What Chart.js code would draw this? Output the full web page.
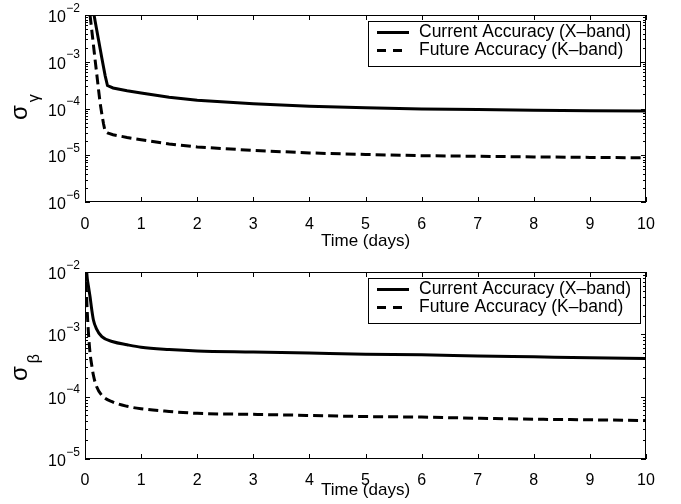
<!DOCTYPE html>
<html>
<head>
<meta charset="utf-8">
<script src="https://cdn.jsdelivr.net/npm/chart.js@4.4.1/dist/chart.umd.min.js"></script>
<style>
  body { margin: 0; background: #fff; }
  #wrap { position: relative; width: 681px; height: 504px; }
  canvas { position: absolute; left: 0; }
  #gammaChart { top: 0; }
  #betaChart { top: 252px; }
</style>
</head>
<body>
<div id="wrap">
  <canvas id="gammaChart" width="681" height="252"></canvas>
  <canvas id="betaChart" width="681" height="252"></canvas>
</div>
<script>
// Values (time in days)
const gammaTime = [0.06, 0.09, 0.12, 0.15, 0.18, 0.21, 0.24, 0.27, 0.3, 0.33, 0.36, 0.4, 0.5, 0.75, 1, 1.5, 2, 3, 4, 5, 6, 7, 8, 9, 10];
const gammaCurrent = [4.5e-2, 2.9e-2, 1.8e-2, 1.2e-2, 7.4e-3, 4.7e-3, 3.0e-3, 1.9e-3, 1.2e-3, 7.7e-4, 5.0e-4, 3.1e-4, 2.75e-4, 2.4e-4, 2.15e-4, 1.75e-4, 1.5e-4, 1.27e-4, 1.12e-4, 1.04e-4, 9.8e-5, 9.5e-5, 9.2e-5, 9.0e-5, 8.8e-5];
const gammaFuture = [2.1e-2, 1.0e-2, 4.8e-3, 2.3e-3, 1.1e-3, 5.4e-4, 2.6e-4, 1.3e-4, 7.6e-5, 4.7e-5, 3.2e-5, 3.0e-5, 2.75e-5, 2.4e-5, 2.15e-5, 1.75e-5, 1.5e-5, 1.27e-5, 1.12e-5, 1.04e-5, 9.8e-6, 9.5e-6, 9.2e-6, 9.0e-6, 8.8e-6];

const betaTime = [0, 0.02, 0.04, 0.06, 0.09, 0.12, 0.15, 0.2, 0.3, 0.5, 0.75, 1, 1.5, 2, 3, 4, 5, 6, 7, 8, 9, 10];
const betaCurrent = [2.0e-2, 1.3e-2, 8.0e-3, 6.0e-3, 4.0e-3, 2.5e-3, 1.7e-3, 1.25e-3, 9.2e-4, 7.6e-4, 6.8e-4, 6.2e-4, 5.7e-4, 5.4e-4, 5.2e-4, 5.0e-4, 4.8e-4, 4.7e-4, 4.5e-4, 4.35e-4, 4.2e-4, 4.1e-4];
const betaFuture = [1.2e-2, 6.0e-3, 2.3e-3, 1.1e-3, 5.0e-4, 3.2e-4, 2.2e-4, 1.5e-4, 1.05e-4, 8.2e-5, 7.0e-5, 6.4e-5, 5.8e-5, 5.4e-5, 5.2e-5, 5.0e-5, 4.8e-5, 4.7e-5, 4.5e-5, 4.35e-5, 4.25e-5, 4.15e-5];

const seriesLabels = ["Current Accuracy (X\u2013band)", "Future Accuracy (K\u2013band)"];
const timeTicks = [0, 1, 2, 3, 4, 5, 6, 7, 8, 9, 10];
const gammaTicks = [1e-6, 1e-5, 1e-4, 1e-3, 1e-2];
const betaTicks = [1e-5, 1e-4, 1e-3, 1e-2];
const xTitle = "Time (days)";

const FONT = '"Liberation Sans", Arial, Helvetica, sans-serif';

function toPoints(xs, ys) {
  return xs.map((x, i) => ({ x: x, y: ys[i] }));
}

// matlab style box with inward ticks on all four sides, plus 10^n labels
const matlabAxes = {
  id: "matlabAxes",
  afterDatasetsDraw(chart) {
    const { ctx, chartArea: a } = chart;
    const x = chart.scales.x, y = chart.scales.y;
    ctx.save();
    ctx.strokeStyle = "#000";
    ctx.lineWidth = 1;
    ctx.beginPath();
    x.ticks.forEach((t) => {
      const px = Math.round(x.getPixelForValue(t.value)) + 0.5;
      ctx.moveTo(px, a.bottom); ctx.lineTo(px, a.bottom - 5);
      ctx.moveTo(px, a.top); ctx.lineTo(px, a.top + 5);
    });
    const e0 = Math.round(Math.log10(y.min)), e1 = Math.round(Math.log10(y.max));
    for (let e = e0; e <= e1; e++) {
      for (let m = 1; m <= 9; m++) {
        const v = m * Math.pow(10, e);
        if (v > y.max * 1.0001) break;
        const py = Math.round(y.getPixelForValue(v)) + 0.5;
        const len = m === 1 ? 5 : 3;
        ctx.moveTo(a.left, py); ctx.lineTo(a.left + len, py);
        ctx.moveTo(a.right, py); ctx.lineTo(a.right - len, py);
      }
    }
    ctx.stroke();
    ctx.strokeRect(a.left + 0.5, a.top + 0.5, a.right - a.left - 1, a.bottom - a.top - 1);

    // y tick labels as 10 with a raised exponent
    ctx.fillStyle = "#000";
    ctx.textAlign = "right";
    ctx.textBaseline = "alphabetic";
    y.ticks.forEach((t) => {
      const py = y.getPixelForValue(t.value);
      const exp = "\u2212" + String(-Math.round(Math.log10(t.value)));
      ctx.font = "12px " + FONT;
      const right = a.left - 5;
      ctx.fillText(exp, right, py - 3.5);
      const ew = ctx.measureText(exp).width;
      ctx.font = "16px " + FONT;
      ctx.fillText("10", right - ew - 0.5, py + 7);
    });
    ctx.restore();
  },
};

// legend box in the upper right corner of the plot
const boxLegend = {
  id: "boxLegend",
  afterDraw(chart) {
    const { ctx, chartArea: a } = chart;
    const w = 272, h = 45;
    const left = a.right - 6 - w, top = a.top + 6;
    ctx.save();
    ctx.fillStyle = "#fff";
    ctx.fillRect(left, top, w, h);
    ctx.strokeStyle = "#000";
    ctx.lineWidth = 1;
    ctx.strokeRect(left + 0.5, top + 0.5, w, h);
    chart.data.datasets.forEach((ds, i) => {
      const rowY = top + 11.5 + i * 18;
      ctx.lineWidth = 3;
      ctx.setLineDash(ds.borderDash && ds.borderDash.length ? [9, 7] : []);
      ctx.beginPath();
      ctx.moveTo(left + 9, rowY);
      ctx.lineTo(left + 41, rowY);
      ctx.stroke();
      ctx.setLineDash([]);
      ctx.fillStyle = "#000";
      ctx.font = "17.5px " + FONT;
      ctx.textBaseline = "middle";
      ctx.textAlign = "left";
      ctx.fillText(ds.label, left + 51, rowY);
    });
    ctx.restore();
  },
};

// sigma with greek subscript as y axis title
const sigmaTitle = {
  id: "sigmaTitle",
  afterDraw(chart, args, opts) {
    const ctx = chart.ctx;
    ctx.save();
    ctx.translate(opts.x, opts.y);
    ctx.rotate(-Math.PI / 2);
    ctx.fillStyle = "#000";
    ctx.textBaseline = "alphabetic";
    ctx.textAlign = "left";
    ctx.font = "24px " + FONT;
    ctx.fillText("\u03C3", 0, 0);
    const w = ctx.measureText("\u03C3").width;
    ctx.font = "16px " + FONT;
    ctx.fillText(opts.sub, w + 3, 12);
    ctx.restore();
  },
};

function makeChart(id, time, current, future, yTicks, cfg) {
  new Chart(document.getElementById(id), {
    type: "line",
    data: {
      datasets: [
        {
          label: seriesLabels[0],
          data: toPoints(time, current),
          borderColor: "#000",
          borderWidth: 3,
          pointRadius: 0,
          tension: 0,
          cubicInterpolationMode: cfg.smooth ? "monotone" : "default",
          clip: 0,
        },
        {
          label: seriesLabels[1],
          data: toPoints(time, future),
          borderColor: "#000",
          borderWidth: 3,
          borderDash: [10, 5],
          pointRadius: 0,
          tension: 0,
          cubicInterpolationMode: cfg.smooth ? "monotone" : "default",
          clip: 0,
        },
      ],
    },
    options: {
      responsive: false,
      animation: false,
      layout: { padding: { left: 0, right: 35, top: cfg.padTop, bottom: 0 } },
      scales: {
        x: {
          type: "linear",
          min: 0,
          max: 10,
          afterBuildTicks: (scale) => { scale.ticks = timeTicks.map((v) => ({ value: v })); },
          afterFit: (scale) => { scale.height = cfg.xHeight; },
          grid: { display: false },
          border: { display: false },
          ticks: { color: "#000", padding: cfg.xLabelPad, font: { family: FONT, size: 16 } },
          title: {
            display: true,
            text: xTitle,
            color: "#000",
            padding: { top: 0, bottom: cfg.xTitlePad },
            font: { family: FONT, size: 17 },
          },
        },
        y: {
          type: "logarithmic",
          min: yTicks[0],
          max: yTicks[yTicks.length - 1],
          afterBuildTicks: (scale) => { scale.ticks = yTicks.map((v) => ({ value: v })); },
          afterFit: (scale) => { scale.width = 85; },
          grid: { display: false },
          border: { display: false },
          ticks: { display: false },
        },
      },
      plugins: {
        legend: { display: false },
        tooltip: { enabled: false },
        sigmaTitle: { x: 27, y: cfg.sigmaY, sub: cfg.sub },
      },
    },
    plugins: [matlabAxes, boxLegend, sigmaTitle],
  });
}

makeChart("gammaChart", gammaTime, gammaCurrent, gammaFuture, gammaTicks, {
  padTop: 15, xHeight: 50, xLabelPad: 5, xTitlePad: 0, sigmaY: 120, sub: "\u03B3", smooth: false,
});
makeChart("betaChart", betaTime, betaCurrent, betaFuture, betaTicks, {
  padTop: 20, xHeight: 45, xLabelPad: 4, xTitlePad: 3, sigmaY: 129, sub: "\u03B2", smooth: true,
});
</script>
</body>
</html>
